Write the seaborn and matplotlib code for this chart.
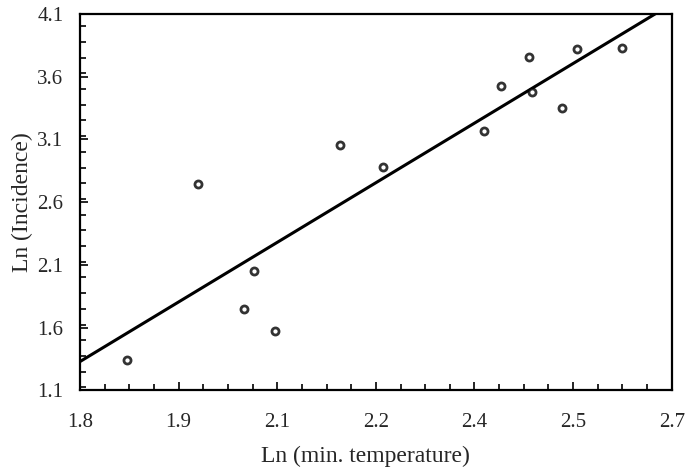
import matplotlib
matplotlib.use("Agg")
import matplotlib.pyplot as plt
from matplotlib.ticker import FixedLocator, MultipleLocator
import numpy as np
import pandas as pd
import seaborn as sns

# Log-transformed minimum temperature vs log-transformed incidence
ln_min_temp = [1.872, 1.980, 2.049, 2.064, 2.097, 2.195, 2.261,
               2.415, 2.440, 2.483, 2.488, 2.533, 2.556, 2.624]
ln_incidence = [1.343, 2.748, 1.752, 2.055, 1.571, 3.054, 2.877,
                3.166, 3.526, 3.752, 3.480, 3.352, 3.816, 3.831]

x_ticks = [1.8, 1.95, 2.1, 2.25, 2.4, 2.55, 2.7]
x_tick_labels = ["1.8", "1.9", "2.1", "2.2", "2.4", "2.5", "2.7"]
y_ticks = [1.1, 1.6, 2.1, 2.6, 3.1, 3.6, 4.1]
y_tick_labels = ["1.1", "1.6", "2.1", "2.6", "3.1", "3.6", "4.1"]

df = pd.DataFrame({"x": ln_min_temp, "y": ln_incidence})

sns.set_theme(style="ticks")
plt.rcParams["font.family"] = ["Liberation Serif", "DejaVu Serif"]

fig = plt.figure(figsize=(6.89, 4.75), dpi=100)
ax = fig.add_axes([0.116, 0.178, 0.859, 0.793])
ax.set_xlim(1.8, 2.7)
ax.set_ylim(1.1, 4.1)

sns.regplot(data=df, x="x", y="y", ax=ax, ci=None, truncate=False,
            scatter_kws=dict(s=26, facecolor="white", edgecolor="black",
                             linewidths=2.0, zorder=3),
            line_kws=dict(color="black", linewidth=2.2, zorder=2))

ax.set_xlim(1.8, 2.7)
ax.set_ylim(1.1, 4.1)

ax.xaxis.set_major_locator(FixedLocator(x_ticks))
ax.set_xticklabels(x_tick_labels)
ax.xaxis.set_minor_locator(MultipleLocator(0.0375))
ax.yaxis.set_major_locator(FixedLocator(y_ticks))
ax.set_yticklabels(y_tick_labels)
ax.yaxis.set_minor_locator(MultipleLocator(0.125))

ax.tick_params(which="both", direction="in", top=False, right=False,
               color="black", width=1.2)
ax.tick_params(which="major", length=6, labelsize=15)
ax.tick_params(axis="x", which="major", pad=16)
ax.tick_params(axis="y", which="major", pad=12)
ax.tick_params(which="minor", length=4)

for side in ax.spines.values():
    side.set_color("black")
    side.set_linewidth(1.6)

ax.set_xlabel("Ln (min. temperature)", fontsize=17)
ax.set_ylabel("Ln (Incidence)", fontsize=17)
ax.xaxis.set_label_coords(0.483, -0.148)
ax.yaxis.set_label_coords(-0.08, 0.5)

fig.savefig("out.png", dpi=100, facecolor="white")
